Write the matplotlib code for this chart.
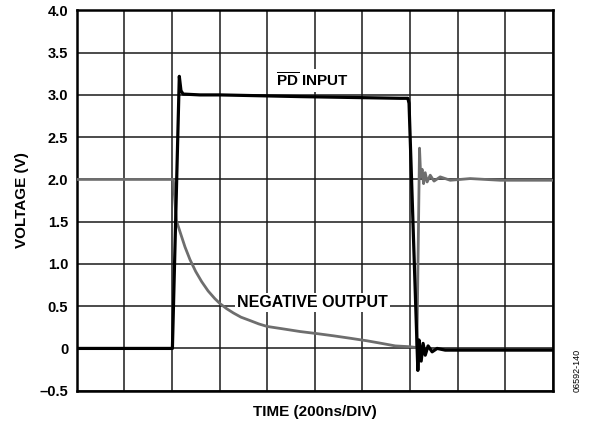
import matplotlib
matplotlib.use("Agg")
from matplotlib import pyplot as plt

plt.rcParams['font.family'] = ['Liberation Sans', 'DejaVu Sans']
plt.rcParams['mathtext.fontset'] = 'custom'
plt.rcParams['mathtext.rm'] = 'Liberation Sans:bold'
plt.rcParams['mathtext.bf'] = 'Liberation Sans:bold'

# PD input (black trace), time in ns
pd_t = [0, 402, 431, 438, 447, 518, 603, 938, 1149, 1358, 1391, 1396,
        1433, 1438, 1447, 1455, 1464, 1476, 1493, 1514, 1548, 1611, 2000]
pd_v = [0.0, 0.0, 3.22, 3.05, 3.01, 3.0, 3.0, 2.98, 2.97, 2.96, 2.96, 2.90,
        -0.26, 0.10, -0.15, 0.06, -0.08, 0.03, -0.04, 0.0, -0.02, -0.02, -0.02]

# negative output (grey trace)
neg_t = [0, 406, 418, 434, 455, 476, 500, 525, 552, 580, 602, 630, 658,
         690, 728, 765, 800, 870, 938, 1010, 1077, 1150, 1220, 1280, 1338,
         1400, 1429, 1440, 1445, 1451, 1457, 1464, 1472, 1485, 1501, 1527,
         1569, 1653, 1779, 2000]
neg_v = [2.0, 2.0, 1.52, 1.38, 1.20, 1.05, 0.91, 0.79, 0.68, 0.59, 0.53,
         0.47, 0.42, 0.37, 0.33, 0.29, 0.26, 0.23, 0.20, 0.175, 0.15, 0.12,
         0.09, 0.06, 0.03, 0.02, 0.01, 2.37, 2.03, 2.12, 1.95, 2.08, 1.97,
         2.05, 1.98, 2.03, 1.99, 2.01, 1.99, 1.99]

yticks = [-0.5, 0, 0.5, 1.0, 1.5, 2.0, 2.5, 3.0, 3.5, 4.0]
ytick_labels = ['\u20130.5', '0', '0.5', '1.0', '1.5', '2.0', '2.5', '3.0', '3.5', '4.0']

fig = plt.figure(figsize=(5.9, 4.23), dpi=100)
ax = fig.add_axes([0.130, 0.0764, 0.807, 0.899])

ax.plot(neg_t, neg_v, color='#6e6e6e', lw=2.0, zorder=3)
ax.plot(pd_t, pd_v, color='black', lw=2.3, zorder=4)

ax.set_xlim(0, 2000)
ax.set_ylim(-0.5, 4.0)
ax.set_xticks(range(0, 2001, 200))
ax.set_xticklabels([])
ax.set_yticks(yticks)
ax.set_yticklabels(ytick_labels, fontsize=10.5, fontweight='bold')
ax.tick_params(length=0, pad=6)
ax.grid(True, color='#1a1a1a', lw=1.1)
ax.set_axisbelow(True)
for s in ax.spines.values():
    s.set_linewidth(1.8)

ax.set_xlabel('TIME (200ns/DIV)', fontsize=11, fontweight='bold', labelpad=4)
ax.set_ylabel('VOLTAGE (V)', fontsize=11, fontweight='bold', labelpad=8)

ax.text(990, 3.17, r'$\overline{\mathrm{PD}}$ INPUT', fontsize=11, fontweight='bold',
        ha='center', va='center', zorder=5,
        bbox=dict(facecolor='white', edgecolor='none', pad=1.5))
ax.text(990, 0.54, 'NEGATIVE OUTPUT', fontsize=11.5, fontweight='bold',
        ha='center', va='center', zorder=5,
        bbox=dict(facecolor='white', edgecolor='none', pad=1.5))

fig.text(0.979, 0.125, '06592-140', fontsize=6.5, rotation=90, ha='center', va='center')

fig.savefig('out.png', dpi=100)
